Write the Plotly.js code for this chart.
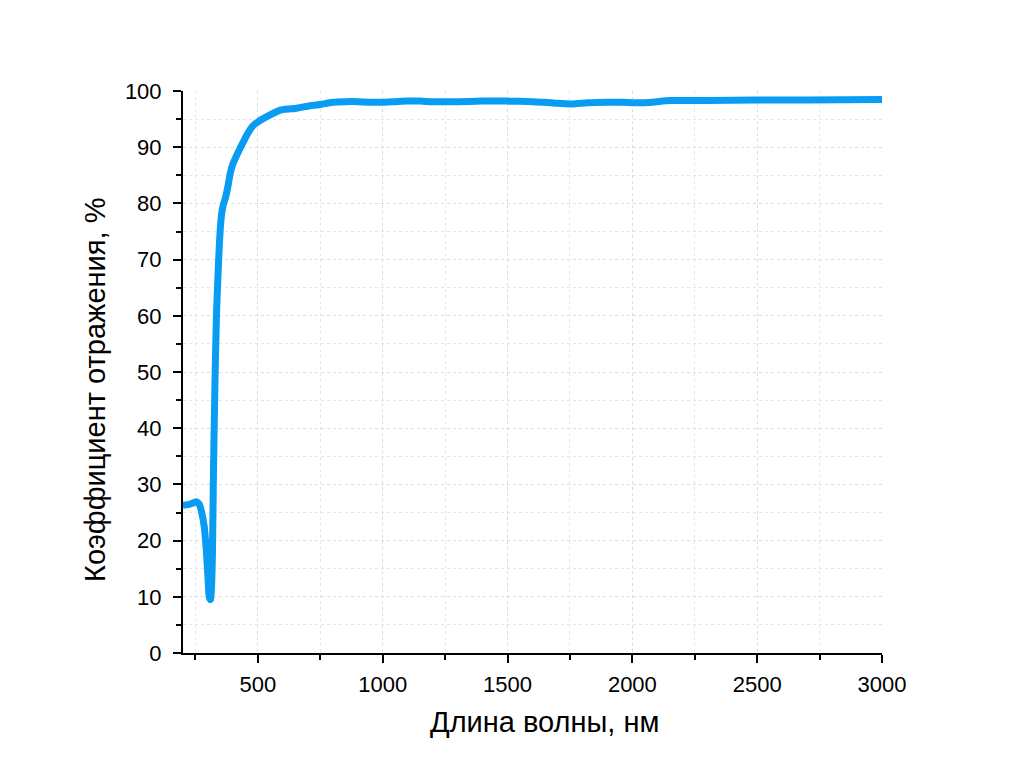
<!DOCTYPE html>
<html>
<head>
<meta charset="utf-8">
<script src="https://cdn.plot.ly/plotly-3.0.1.min.js"></script>
<style>
  html, body { margin: 0; padding: 0; background: #fff; }
  #chart { width: 1024px; height: 784px; }
</style>
</head>
<body>
<div id="chart"></div>
<script>
// wavelength, nm
var wavelength = [200, 220, 240, 255, 265, 275, 285, 293, 300, 305, 310, 314, 318, 322, 328, 334,
  340, 346, 352, 360, 370, 380, 390, 400, 420, 440, 460, 480, 500, 530, 560, 590, 620, 650,
  700, 750, 800, 850, 900, 950, 1000, 1050, 1100, 1150, 1200, 1300, 1400, 1500, 1600, 1650,
  1700, 1760, 1820, 1900, 1960, 2020, 2080, 2150, 2300, 2500, 2700, 3000];
// reflectance, %
var reflectance = [26.3, 26.4, 26.7, 26.9, 26.5, 25.0, 22.5, 18.5, 13.5, 10.0, 9.5, 11.5, 18, 32, 48, 60,
  67, 73, 77, 79.5, 81, 83, 85.5, 87, 89, 90.8, 92.5, 93.8, 94.5, 95.3, 96.0, 96.6, 96.8, 96.9,
  97.3, 97.6, 98.0, 98.1, 98.1, 98.0, 98.0, 98.1, 98.2, 98.2, 98.1, 98.1, 98.2, 98.2, 98.1, 98.0,
  97.8, 97.7, 97.9, 98.0, 98.0, 97.9, 98.0, 98.3, 98.3, 98.4, 98.4, 98.5];

var xTitle = 'Длина волны, нм';
var yTitle = 'Коэффициент отражения, %';

var trace = {
  x: wavelength,
  y: reflectance,
  type: 'scatter',
  mode: 'lines',
  line: { color: '#0a9cf2', width: 7, shape: 'spline', smoothing: 0.6 },
  hoverinfo: 'skip'
};

var fontFamily = 'Liberation Sans, Arial, sans-serif';
var tickFont = { family: fontFamily, size: 22, color: '#000' };
var titleFont = { family: fontFamily, size: 29, color: '#000' };

var layout = {
  width: 1024,
  height: 784,
  paper_bgcolor: '#fff',
  plot_bgcolor: '#fff',
  showlegend: false,
  margin: { l: 183, r: 142, t: 91, b: 131, pad: 0 },
  xaxis: {
    range: [200, 3000],
    tickvals: [500, 1000, 1500, 2000, 2500, 3000],
    ticks: 'outside',
    ticklen: 8,
    tickwidth: 2,
    tickcolor: '#000',
    ticklabelstandoff: 3,
    showline: true,
    linecolor: '#000',
    linewidth: 2,
    showgrid: true,
    gridcolor: '#dcdcdc',
    griddash: 'dot',
    gridwidth: 1,
    zeroline: false,
    tickfont: tickFont,
    minor: { dtick: 250, tick0: 0, ticks: 'outside', ticklen: 5, tickwidth: 2, tickcolor: '#000',
      showgrid: true, gridcolor: '#e6e6e6', griddash: 'dot', gridwidth: 1 }
  },
  yaxis: {
    range: [0, 100],
    dtick: 10,
    ticks: 'outside',
    ticklen: 8,
    tickwidth: 2,
    tickcolor: '#000',
    ticklabelstandoff: 7,
    showline: true,
    linecolor: '#000',
    linewidth: 2,
    showgrid: true,
    gridcolor: '#dcdcdc',
    griddash: 'dot',
    gridwidth: 1,
    zeroline: false,
    tickfont: tickFont,
    minor: { dtick: 5, ticks: 'outside', ticklen: 5, tickwidth: 2, tickcolor: '#000',
      showgrid: true, gridcolor: '#e6e6e6', griddash: 'dot', gridwidth: 1 }
  },
  annotations: [
    { text: xTitle, xref: 'paper', yref: 'paper', x: 0.5165, y: -0.1228,
      xanchor: 'center', yanchor: 'middle', showarrow: false, font: titleFont },
    { text: yTitle, xref: 'paper', yref: 'paper', x: -0.1259, y: 0.468, textangle: -90,
      xanchor: 'center', yanchor: 'middle', showarrow: false, font: titleFont }
  ]
};

Plotly.newPlot('chart', [trace], layout, { staticPlot: true, displayModeBar: false });
</script>
</body>
</html>
